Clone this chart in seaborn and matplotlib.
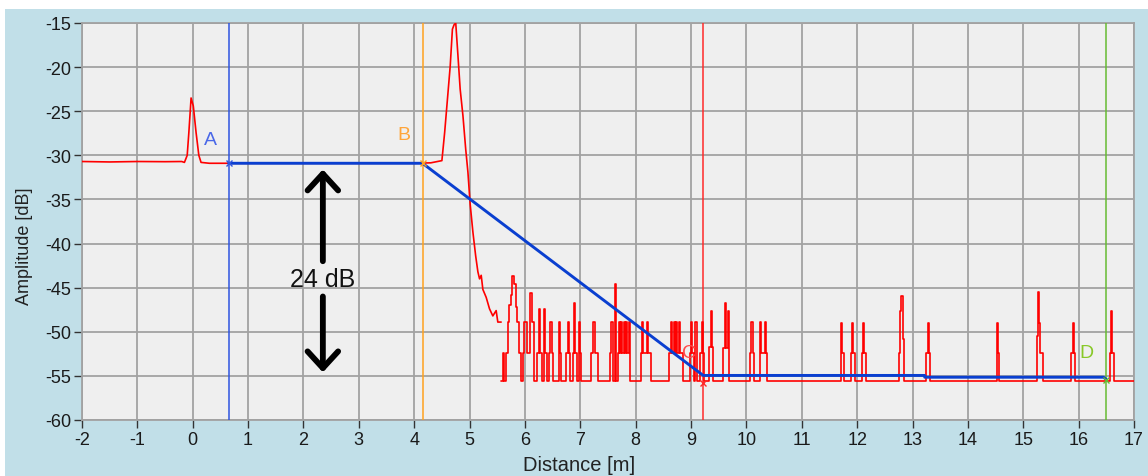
import matplotlib
matplotlib.use("Agg")
import matplotlib.pyplot as plt
import numpy as np
import pandas as pd
import seaborn as sns
from matplotlib.patches import Rectangle

# ---------------- data ----------------
# smooth part of the measured trace (red)
trace_x = [-2.0, -1.5, -1.0, -0.5, -0.2, -0.15, -0.10, -0.07, -0.04, -0.03, 0.01, 0.06,
           0.11, 0.15, 0.3, 1.0, 2.0, 3.0, 4.0, 4.3, 4.5, 4.55, 4.61, 4.65, 4.69, 4.72,
           4.75, 4.79, 4.83, 4.88, 4.93, 4.97, 5.01, 5.06, 5.11, 5.15, 5.18, 5.21, 5.24,
           5.30, 5.36, 5.42, 5.48, 5.51, 5.57]
trace_y = [-30.7, -30.75, -30.7, -30.72, -30.7, -30.8, -30.0, -27.4, -24.5, -23.5, -24.4, -27.4,
           -30.0, -30.8, -30.9, -30.9, -30.9, -30.9, -30.9, -30.85, -30.6, -27.4, -22.9, -19.9, -15.7, -15.2,
           -15.0, -18.7, -22.5, -25.5, -29.3, -31.9, -35.5, -38.7, -41.4, -43.2, -44.0, -43.6, -45.2,
           -46.1, -47.4, -48.2, -47.6, -48.9, -48.9]

# quantised noise part of the trace (step breakpoints, value holds until next x)
noise_x = [5.57, 5.60, 5.63, 5.66, 5.69, 5.72, 5.74, 5.77, 5.80, 5.83, 5.86, 5.89, 5.92,
           5.97, 5.99, 6.03, 6.10, 6.13, 6.17, 6.22, 6.26, 6.28, 6.31, 6.35, 6.37, 6.40,
           6.43, 6.46, 6.48, 6.50, 6.62, 6.64, 6.66, 6.75, 6.77, 6.79, 6.81, 6.86, 6.89,
           6.91, 6.94, 6.97, 6.99, 7.01,
           7.20, 7.23, 7.26, 7.32, 7.53, 7.56, 7.59, 7.62, 7.65, 7.68, 7.70, 7.72, 7.74,
           7.76, 7.78, 7.80, 7.83, 7.85, 7.88, 7.89, 8.10, 8.12, 8.14, 8.20, 8.22, 8.24,
           8.28, 8.61, 8.64, 8.66, 8.69, 8.71, 8.73, 8.75, 8.78, 8.80, 8.86, 8.98, 9.00,
           9.02, 9.05, 9.07, 9.11, 9.17, 9.19, 9.21, 9.23,
           9.32, 9.36, 9.38, 9.40, 9.58, 9.61, 9.63, 9.66, 9.68, 10.06, 10.09, 10.11,
           10.14, 10.24, 10.25, 10.27, 10.33, 10.35, 10.38,
           11.70, 11.72, 11.735, 11.76, 11.88, 11.90, 11.93, 11.96, 12.08, 12.10, 12.12,
           12.16, 12.75, 12.78, 12.80, 12.82, 12.84, 13.25, 13.28, 13.30, 13.32, 14.52,
           14.535, 14.555, 15.25, 15.27, 15.29, 15.31, 15.35, 15.87, 15.89, 15.92, 15.93,
           16.57, 16.59, 16.61, 16.64, 17.0]
noise_y = [-55.6, -52.4, -55.6, -52.4, -48.9, -47.0, -45.8, -43.7, -44.6, -47.2, -48.9, -52.4, -55.6,
           -52.4, -48.9, -52.4, -45.6, -48.9, -55.6, -52.4, -47.4, -52.4, -55.6, -47.4, -52.4, -55.6,
           -52.4, -48.9, -52.4, -55.6, -48.9, -52.4, -55.6, -52.4, -48.9, -52.4, -55.6, -52.4, -46.7,
           -52.4, -55.6, -48.9, -52.4, -55.6,
           -52.4, -48.9, -52.4, -55.6, -52.4, -48.9, -55.6, -44.6, -55.6, -52.4, -48.9, -52.4, -48.9,
           -52.4, -48.9, -52.4, -48.9, -52.4, -48.9, -55.6, -52.4, -48.9, -52.4, -48.9, -52.4, -52.4,
           -55.6, -52.4, -48.9, -52.4, -48.9, -52.4, -48.9, -52.4, -48.9, -52.4, -55.6, -52.4, -48.9,
           -52.4, -55.6, -48.9, -55.6, -52.4, -48.9, -52.4, -55.6,
           -51.7, -47.6, -51.7, -55.6, -51.8, -46.7, -51.8, -47.6, -55.6, -52.4, -48.9, -52.4,
           -55.6, -52.4, -48.9, -52.4, -48.9, -52.4, -55.6,
           -49.0, -52.45, -52.45, -55.6, -52.45, -49.0, -52.45, -55.6, -52.45, -49.0, -52.45,
           -55.6, -52.45, -47.6, -46.0, -50.8, -55.6, -52.45, -49.0, -52.45, -55.6, -49.0,
           -52.45, -55.6, -50.45, -45.5, -49.0, -52.45, -55.6, -52.45, -49.0, -52.45, -55.6,
           -52.45, -47.6, -52.45, -55.6, -55.6]

# fitted loss line (blue)
fit_x = [0.65, 4.15, 9.22, 13.22, 13.22, 16.45, 16.5]
fit_y = [-30.9, -30.9, -54.95, -54.95, -55.15, -55.15, -55.4]

# cursors
cursor_names = ["A", "B", "C", "D"]
cursor_x = [0.65, 4.15, 9.22, 16.5]
cursor_y = [-30.9, -30.9, -55.75, -55.5]
cursor_label_x = [0.32, 3.81, 8.96, 16.15]
cursor_label_y = [-28.15, -27.6, -52.4, -52.3]
cursor_colors = ["#2f55e0", "#ffa21f", "#ff2a2a", "#66bb33"]
cursor_text_colors = ["#4a68e8", "#ffa53a", "#ff4a4a", "#88c828"]

# annotation: 24 dB double arrow
arrow_x = 2.35
arrow_up = (-42.0, -31.6)
arrow_down = (-46.0, -54.6)
arrow_text = "24 dB"
arrow_text_y = -44.0

x_ticks = list(range(-2, 18))
y_ticks = list(range(-60, -14, 5))

# ---------------- style ----------------
sns.set_style("whitegrid")
plt.rcParams["font.family"] = ["Liberation Sans", "DejaVu Sans"]
plt.rcParams["axes.unicode_minus"] = False

W, H = 1148, 477
fig = plt.figure(figsize=(W / 100, H / 100), dpi=100)
fig.patch.set_facecolor("white")
fig.patches.append(Rectangle((5 / W, 0), 1 - 5 / W, (H - 10) / H, transform=fig.transFigure,
                             facecolor="#c1dfe8", edgecolor="none", zorder=-10))

ax = fig.add_axes([82 / W, 56 / H, 1052 / W, 397 / H])
ax.set_facecolor("#efefef")

df_trace = pd.DataFrame({"x": trace_x, "y": trace_y})
df_noise = pd.DataFrame({"x": noise_x, "y": noise_y})
df_fit = pd.DataFrame({"x": fit_x, "y": fit_y})

for cx, cc in zip(cursor_x, cursor_colors):
    ax.axvline(cx, color=cc, lw=1.1, zorder=3)

sns.lineplot(data=df_trace, x="x", y="y", ax=ax, color="#ff0000", lw=1.2,
             estimator=None, sort=False, legend=False, zorder=4)
sns.lineplot(data=df_noise, x="x", y="y", ax=ax, color="#ff0000", lw=1.2,
             estimator=None, sort=False, legend=False, drawstyle="steps-post", zorder=4)
sns.lineplot(data=df_fit, x="x", y="y", ax=ax, color="#0a3fd0", lw=2.1,
             estimator=None, sort=False, legend=False, zorder=5)

for cx, cy, cc in zip(cursor_x, cursor_y, cursor_colors):
    ax.plot([cx], [cy], marker="x", ms=5, mew=1.0, color=cc, zorder=6)

for name, lx, ly, tc in zip(cursor_names, cursor_label_x, cursor_label_y, cursor_text_colors):
    ax.text(lx, ly, name, color=tc, fontsize=14, ha="center", va="center", zorder=5)

arrow_kw = dict(arrowstyle="->,head_length=0.6,head_width=0.55", lw=4.2, color="black",
                shrinkA=0, shrinkB=0, mutation_scale=20, capstyle="round", joinstyle="round")
ax.annotate("", xy=(arrow_x, arrow_up[1]), xytext=(arrow_x, arrow_up[0]),
            arrowprops=arrow_kw, zorder=7)
ax.annotate("", xy=(arrow_x, arrow_down[1]), xytext=(arrow_x, arrow_down[0]),
            arrowprops=arrow_kw, zorder=7)
ax.text(arrow_x, arrow_text_y, arrow_text, fontsize=18, ha="center", va="center",
        color="#111111", zorder=7)

ax.set_xlim(-2, 17)
ax.set_ylim(-60, -15)
ax.set_xticks(x_ticks)
ax.set_xticklabels([str(t) for t in x_ticks])
ax.set_yticks(y_ticks)
ax.set_yticklabels([str(t) for t in y_ticks])
ax.grid(True, color="#a2a2a2", lw=1.3)
ax.set_axisbelow(True)
for s in ax.spines.values():
    s.set_color("#a2a2a2")
    s.set_linewidth(1.3)
ax.tick_params(axis="both", direction="out", length=5.5, width=1.0, color="#333333",
               labelsize=13, labelcolor="#1a1a1a", pad=2.5, left=True, bottom=True)

ax.set_xlabel("Distance [m]", fontsize=14.5, color="#222222")
ax.set_ylabel("Amplitude [dB]", fontsize=13, color="#222222")
ax.xaxis.set_label_coords((579 - 82) / 1052, -0.088)
ax.yaxis.set_label_coords(-0.047, 0.44)

fig.savefig("out.png", dpi=100)
